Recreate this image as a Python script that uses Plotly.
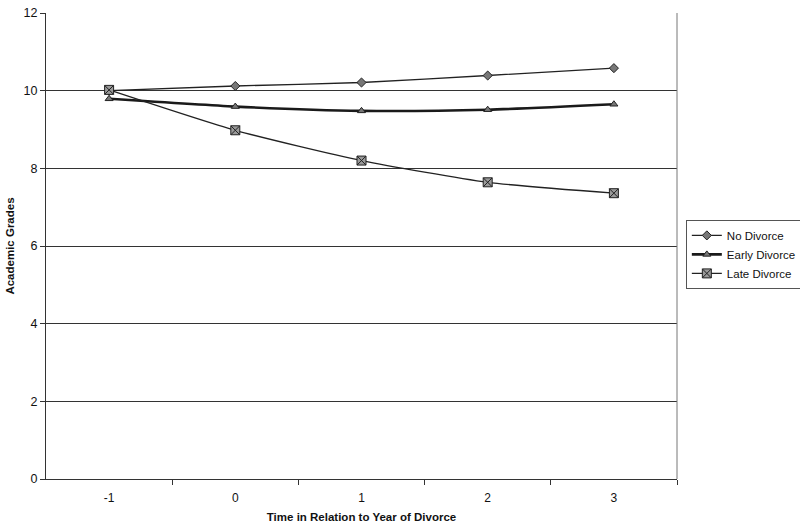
import plotly.graph_objects as go

time_points = [-1, 0, 1, 2, 3]
no_divorce = [10.0, 10.12, 10.21, 10.39, 10.58]
early_divorce = [9.79, 9.59, 9.48, 9.51, 9.65]
late_divorce = [10.02, 8.98, 8.2, 7.64, 7.36]

fig = go.Figure()
fig.add_trace(go.Scatter(
    x=time_points, y=no_divorce, name="No Divorce", mode="lines+markers",
    line=dict(color="#222222", width=1.3, shape="spline", smoothing=0.6),
    marker=dict(symbol="diamond", size=7, color="#777777", line=dict(color="#222222", width=1))))
fig.add_trace(go.Scatter(
    x=time_points, y=early_divorce, name="Early Divorce", mode="lines+markers",
    line=dict(color="#1a1a1a", width=2.6, shape="spline", smoothing=0.6),
    marker=dict(symbol="triangle-up", size=7, color="#777777", line=dict(color="#222222", width=1))))
fig.add_trace(go.Scatter(
    x=time_points, y=late_divorce, name="Late Divorce", mode="lines+markers",
    line=dict(color="#222222", width=1.3, shape="spline", smoothing=0.6),
    marker=dict(symbol="square-x", size=9, color="#999999", line=dict(color="#222222", width=1))))

fig.update_layout(
    width=800, height=529,
    margin=dict(l=46, r=123, t=13, b=50, autoexpand=False),
    paper_bgcolor="white", plot_bgcolor="white",
    font=dict(family="Liberation Sans, Arial", color="#111111", size=12),
    showlegend=True,
    legend=dict(x=1.014, y=0.556, xanchor="left", yanchor="top",
                bordercolor="#555555", borderwidth=1, bgcolor="white",
                font=dict(size=11.5), itemwidth=30, tracegroupgap=0),
)
fig.update_xaxes(
    automargin=False,
    range=[-1.5, 3.5], tickvals=time_points, ticktext=[str(t) for t in time_points],
    ticks="", showgrid=False, zeroline=False, ticklabelstandoff=7,
    showline=True, linecolor="#333333", linewidth=1.2, mirror=False,
    minor=dict(tickvals=[-0.5, 0.5, 1.5, 2.5, 3.5], ticks="outside", ticklen=5,
               tickcolor="#333333", showgrid=False),
    tickfont=dict(size=12, color="#111111"),
    title=dict(text="<b>Time in Relation to Year of Divorce</b>", font=dict(size=11.5), standoff=9),
)
fig.update_yaxes(
    automargin=False,
    range=[0, 12], tickvals=[0, 2, 4, 6, 8, 10, 12], ticks="outside", ticklen=5,
    tickcolor="#333333", showgrid=True, gridcolor="#333333", gridwidth=1,
    zeroline=False, showline=True, linecolor="#333333", linewidth=1.2,
    tickfont=dict(size=12.5, color="#111111"),
    title=dict(text="<b>Academic Grades</b>", font=dict(size=11.5), standoff=6),
)
# right border of plot area
fig.add_shape(type="line", xref="paper", yref="paper", x0=1, x1=1, y0=0, y1=1,
              line=dict(color="#777777", width=1))

fig.write_html("out.html", config={"displayModeBar": False},
               post_script="document.body.style.margin='0';")
